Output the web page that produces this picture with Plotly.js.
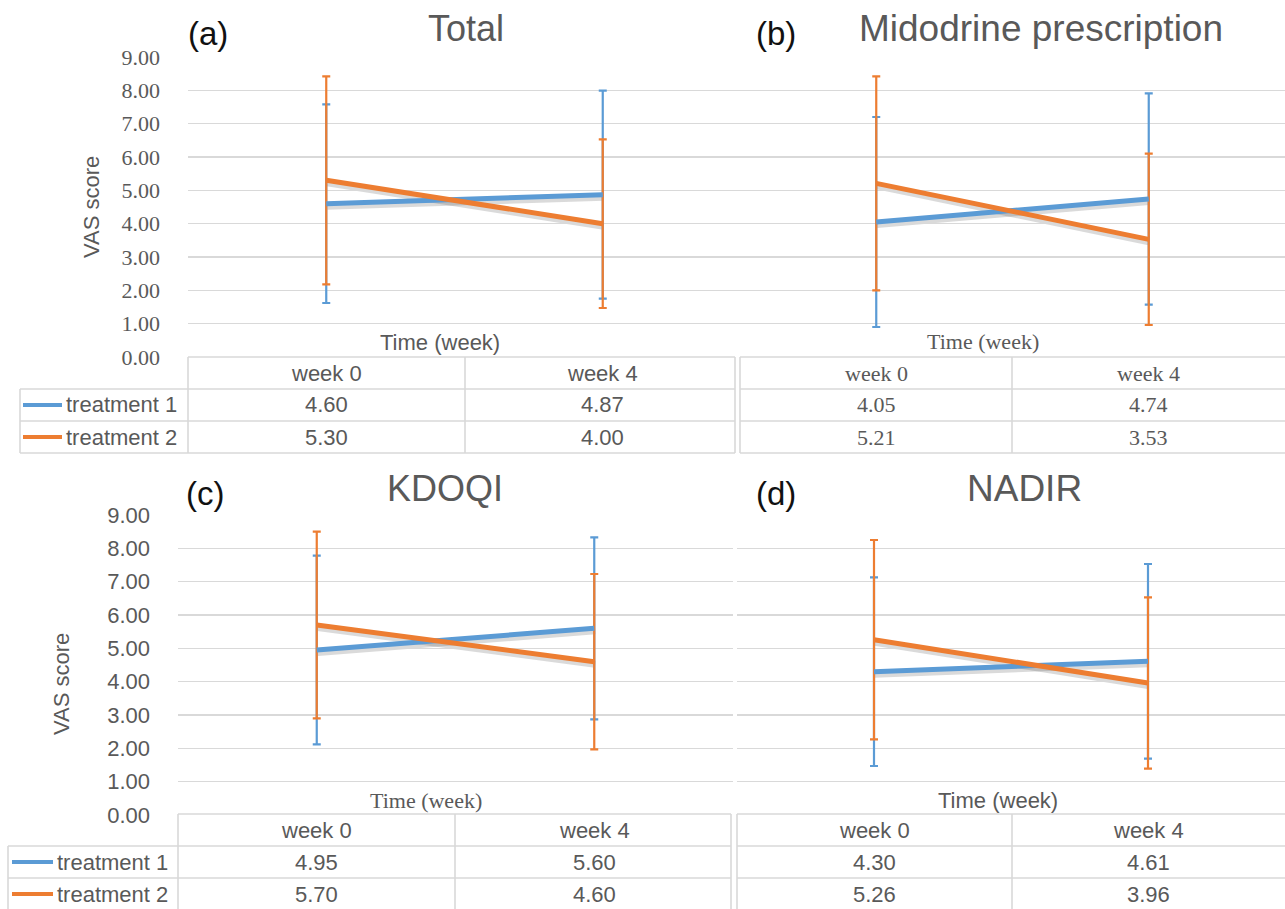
<!DOCTYPE html>
<html><head><meta charset="utf-8">
<script src="https://cdn.plot.ly/plotly-3.0.1.min.js"></script>
<style>html,body{margin:0;padding:0;background:#fff}#chart{width:1285px;height:909px}</style>
</head><body><div id="chart"></div>
<script>
// ---------------- data ----------------
const categories = ['week 0', 'week 4'];
const seriesNames = ['treatment 1', 'treatment 2'];
const panelTitles = ['Total', 'Midodrine prescription', 'KDOQI', 'NADIR'];
const panelLetters = ['(a)', '(b)', '(c)', '(d)'];
const yTicks = [0, 1, 2, 3, 4, 5, 6, 7, 8, 9];
const yTitle = 'VAS score';
const xTitle = 'Time (week)';

const totalT1 = [4.60, 4.87];
const totalT2 = [5.30, 4.00];
const totalT1Err = [2.98, 3.12];
const totalT2Err = [3.12, 2.53];

const midodrineT1 = [4.05, 4.74];
const midodrineT2 = [5.21, 3.53];
const midodrineT1Err = [3.15, 3.17];
const midodrineT2Err = [3.21, 2.57];

const kdoqiT1 = [4.95, 5.60];
const kdoqiT2 = [5.70, 4.60];
const kdoqiT1Err = [2.83, 2.73];
const kdoqiT2Err = [2.80, 2.63];

const nadirT1 = [4.30, 4.61];
const nadirT2 = [5.26, 3.96];
const nadirT1Err = [2.83, 2.92];
const nadirT2Err = [2.99, 2.57];

const panelMeans = [[totalT1, totalT2], [midodrineT1, midodrineT2], [kdoqiT1, kdoqiT2], [nadirT1, nadirT2]];
const panelErrs = [[totalT1Err, totalT2Err], [midodrineT1Err, midodrineT2Err], [kdoqiT1Err, kdoqiT2Err], [nadirT1Err, nadirT2Err]];

// ---------------- style / layout ----------------
const W = 1285, H = 909;
const PX = v => v / W;
const PY = v => 1 - v / H;
const SANS = 'Liberation Sans, Arial, sans-serif';
const SERIF = 'Liberation Serif, Times New Roman, serif';
const TXT = '#595959';
const GRID = '#d9d9d9';
const seriesColors = ['#5B9BD5', '#ED7D31'];

const panels = [
  {xl: 188, xr: 741, yt: 57, yb: 357, titleX: 466, titleY: 28, titleSize: 36, letterX: 208, letterY: 34,
   timeX: 440, timeY: 342, timeFont: SANS, ticks: true, tickFont: SERIF, vasX: 92, vasY: 207, tableFont: SANS,
   rows: [357, 389, 421, 453], vlines: [188, 465, 735], topLeft: 188, rowLeft: 20, rowRight: 735,
   legend: {left: 20, x0: 23, x1: 62, tx: 64}},
  {xl: 740, xr: 1285, yt: 57, yb: 357, titleX: 1041, titleY: 28, titleSize: 37, letterX: 776, letterY: 34,
   timeX: 983, timeY: 341, timeFont: SERIF, ticks: false, tableFont: SERIF,
   rows: [357, 389, 421, 453], vlines: [740, 1012], topLeft: 740, rowLeft: 740, rowRight: 1285, legend: null},
  {xl: 178, xr: 733, yt: 515, yb: 815, titleX: 445, titleY: 488, titleSize: 36, letterX: 205, letterY: 493,
   timeX: 426, timeY: 800, timeFont: SERIF, ticks: true, tickFont: SANS, vasX: 61, vasY: 684, tableFont: SANS,
   rows: [814, 846, 878, 910], vlines: [178, 455, 731], topLeft: 178, rowLeft: 8, rowRight: 731,
   legend: {left: 8, x0: 12, x1: 53, tx: 55}},
  {xl: 737, xr: 1285, yt: 515, yb: 815, titleX: 1024, titleY: 488, titleSize: 37, letterX: 776, letterY: 493,
   timeX: 998, timeY: 800, timeFont: SANS, ticks: false, tableFont: SANS,
   rows: [814, 846, 878, 910], vlines: [737, 1012], topLeft: 737, rowLeft: 737, rowRight: 1285, legend: null}
];

const traces = [];
const layout = {
  width: W, height: H,
  margin: {l: 0, r: 0, t: 0, b: 0},
  paper_bgcolor: '#ffffff',
  plot_bgcolor: 'rgba(0,0,0,0)',
  showlegend: false,
  font: {family: SANS, color: TXT},
  annotations: [],
  shapes: []
};

function axName(n) { return n === 1 ? '' : String(n); }

panels.forEach((p, i) => {
  const sN = i + 1, rN = i + 5;
  const sx = 'x' + axName(sN), sy = 'y' + axName(sN);
  const rx = 'x' + rN, ry = 'y' + rN;

  // shadow axes (offset a few px down-right, invisible)
  layout['xaxis' + axName(sN)] = {
    domain: [PX(p.xl + 1), Math.min(1, PX(p.xr + 1))], anchor: sy, type: 'category',
    categoryorder: 'array', categoryarray: categories, range: [-0.5, 1.5], visible: false, fixedrange: true
  };
  layout['yaxis' + axName(sN)] = {
    domain: [PY(p.yb + 2.5), PY(p.yt + 2.5)], anchor: sx, range: [0, 9], visible: false, fixedrange: true
  };
  // real axes
  layout['xaxis' + rN] = {
    domain: [PX(p.xl), PX(p.xr)], anchor: ry, type: 'category',
    categoryorder: 'array', categoryarray: categories, range: [-0.5, 1.5],
    showgrid: false, zeroline: false, showline: false, showticklabels: false, ticks: '', fixedrange: true
  };
  layout['yaxis' + rN] = {
    domain: [PY(p.yb), PY(p.yt)], anchor: rx, range: [0, 9],
    tickmode: 'array', tickvals: yTicks, tickformat: '.2f',
    showgrid: true, gridcolor: GRID, gridwidth: 1.4, zeroline: false, showline: false, ticks: '',
    showticklabels: p.ticks, ticklabelstandoff: 27,
    tickfont: {family: p.tickFont || SANS, size: 22, color: TXT}, fixedrange: true
  };

  const means = panelMeans[i], errs = panelErrs[i];
  // shadows
  means.forEach((m, s) => {
    traces.push({x: categories, y: m, xaxis: sx, yaxis: sy, mode: 'lines',
      line: {color: 'rgba(70,70,70,0.2)', width: 7}, hoverinfo: 'skip'});
  });
  // error bars
  means.forEach((m, s) => {
    traces.push({x: categories, y: m, xaxis: rx, yaxis: ry, mode: 'markers',
      marker: {size: 1, color: 'rgba(0,0,0,0)'}, hoverinfo: 'skip',
      error_y: {type: 'data', array: errs[s], symmetric: true, color: seriesColors[s], thickness: 2.2, width: 4}});
  });
  // lines
  means.forEach((m, s) => {
    traces.push({x: categories, y: m, xaxis: rx, yaxis: ry, mode: 'lines', name: seriesNames[s],
      line: {color: seriesColors[s], width: 5}});
  });

  // titles
  layout.annotations.push({text: panelTitles[i], xref: 'paper', yref: 'paper', x: PX(p.titleX), y: PY(p.titleY),
    xanchor: 'center', yanchor: 'middle', showarrow: false, font: {family: SANS, size: p.titleSize, color: TXT}});
  layout.annotations.push({text: panelLetters[i], xref: 'paper', yref: 'paper', x: PX(p.letterX), y: PY(p.letterY),
    xanchor: 'center', yanchor: 'middle', showarrow: false, font: {family: SANS, size: 33, color: '#111111'}});
  layout.annotations.push({text: xTitle, xref: 'paper', yref: 'paper', x: PX(p.timeX), y: PY(p.timeY),
    xanchor: 'center', yanchor: 'middle', showarrow: false, font: {family: p.timeFont, size: 22, color: TXT}});
  if (p.ticks) {
    layout.annotations.push({text: yTitle, xref: 'paper', yref: 'paper', x: PX(p.vasX), y: PY(p.vasY),
      xanchor: 'center', yanchor: 'middle', textangle: -90, showarrow: false, font: {family: SANS, size: 22, color: TXT}});
  }

  // table grid
  const ln = (x0, y0, x1, y1) => layout.shapes.push({type: 'line', xref: 'paper', yref: 'paper',
    x0: PX(x0), y0: PY(y0), x1: PX(x1), y1: PY(y1), line: {color: GRID, width: 1.6}, layer: 'above'});
  ln(p.topLeft, p.rows[0], p.rowRight, p.rows[0]);
  for (let r = 1; r < p.rows.length; r++) ln(p.rowLeft, p.rows[r], p.rowRight, p.rows[r]);
  p.vlines.forEach(x => ln(x, p.rows[0], x, p.rows[p.rows.length - 1]));
  if (p.legend) ln(p.legend.left, p.rows[1], p.legend.left, p.rows[p.rows.length - 1]);

  // header cells
  categories.forEach(c => {
    layout.annotations.push({text: c, xref: rx, yref: 'paper', x: c, y: PY((p.rows[0] + p.rows[1]) / 2),
      xanchor: 'center', yanchor: 'middle', showarrow: false, font: {family: p.tableFont, size: 22, color: TXT}});
  });
  // value cells
  means.forEach((m, s) => {
    const yc = PY((p.rows[s + 1] + p.rows[s + 2]) / 2);
    m.forEach((v, j) => {
      layout.annotations.push({text: v.toFixed(2), xref: rx, yref: 'paper', x: categories[j], y: yc,
        xanchor: 'center', yanchor: 'middle', showarrow: false, font: {family: p.tableFont, size: 22, color: TXT}});
    });
    if (p.legend) {
      layout.shapes.push({type: 'line', xref: 'paper', yref: 'paper', x0: PX(p.legend.x0), x1: PX(p.legend.x1),
        y0: yc, y1: yc, line: {color: seriesColors[s], width: 4}, layer: 'above'});
      layout.annotations.push({text: seriesNames[s], xref: 'paper', yref: 'paper', x: PX(p.legend.tx), y: yc,
        xanchor: 'left', yanchor: 'middle', showarrow: false, font: {family: SANS, size: 22, color: TXT}});
    }
  });
});

Plotly.newPlot('chart', traces, layout, {displayModeBar: false, staticPlot: true});
</script>
</body></html>
